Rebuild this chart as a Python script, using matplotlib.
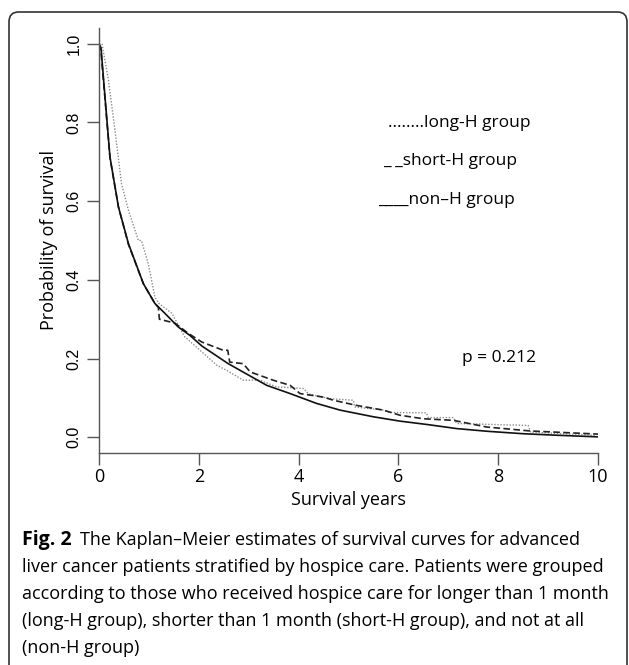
import numpy as np
import matplotlib
matplotlib.use('Agg')
import matplotlib.pyplot as plt
from matplotlib.patches import FancyBboxPatch

# Kaplan-Meier estimates (years, survival probability)
t_non = [0, 0.04, 0.12, 0.22, 0.39, 0.59, 0.89, 1.12, 1.32, 1.59, 1.82, 2.06, 2.59, 3.36,
         3.83, 4.36, 4.83, 5.5, 6.03, 6.6, 7.17, 7.8, 8.5, 9.2, 10.0]
s_non = [1.0, 0.99, 0.865, 0.712, 0.585, 0.492, 0.39, 0.34, 0.315, 0.28, 0.259, 0.232, 0.187, 0.132,
         0.111, 0.086, 0.069, 0.052, 0.041, 0.032, 0.022, 0.015, 0.009, 0.005, 0.001]

t_short = [0, 0.04, 0.12, 0.22, 0.39, 0.59, 0.89, 1.12, 1.19, 1.21, 1.52, 1.79, 2.06, 2.49,
           2.58, 2.62, 2.89, 3.03, 3.49, 3.83, 4.03, 4.5, 4.7, 5.16, 5.7, 6.03, 6.5, 7.1,
           7.77, 8.64, 9.84, 10.0]
s_short = [1.0, 0.98, 0.86, 0.71, 0.585, 0.49, 0.39, 0.34, 0.33, 0.30, 0.29, 0.264, 0.242, 0.221,
           0.221, 0.191, 0.187, 0.166, 0.145, 0.132, 0.111, 0.102, 0.094, 0.081, 0.069, 0.056, 0.047, 0.043,
           0.026, 0.016, 0.009, 0.008]

t_long = [0, 0.06, 0.19, 0.32, 0.45, 0.59, 0.79, 0.85, 0.99, 1.12, 1.2, 1.46, 1.72, 1.99,
          2.36, 2.56, 2.89, 3.22, 3.56, 4.1, 4.2, 4.63, 5.1, 5.12, 5.7, 5.83, 6.56, 6.6,
          7.1, 7.17, 8.6, 8.65, 9.97]
s_long = [1.0, 1.0, 0.907, 0.78, 0.645, 0.577, 0.50, 0.50, 0.44, 0.356, 0.34, 0.315, 0.255, 0.225,
          0.183, 0.17, 0.145, 0.145, 0.128, 0.124, 0.11, 0.098, 0.094, 0.077, 0.069, 0.063, 0.062, 0.05,
          0.05, 0.035, 0.03, 0.013, 0.005]

x_ticks = [0, 2, 4, 6, 8, 10]
y_ticks = [0.0, 0.2, 0.4, 0.6, 0.8, 1.0]

legend_lines = ['........long-H group', '_ _short-H group', '____non\u2013H group']
p_text = 'p = 0.212'

caption_head = 'Fig. 2'
caption = [
    'The Kaplan\u2013Meier estimates of survival curves for advanced',
    'liver cancer patients stratified by hospice care. Patients were grouped',
    'according to those who received hospice care for longer than 1 month',
    '(long-H group), shorter than 1 month (short-H group), and not at all',
    '(non-H group)',
]

plt.rcParams['font.family'] = ['Open Sans', 'DejaVu Sans']

fig = plt.figure(figsize=(6.29, 6.65), dpi=100)
W, H = 629, 665

# rounded frame round the figure panel (bottom runs off the page)
frame = FancyBboxPatch((9 / W, -20 / H), 618 / W, (H - 12 + 20) / H,
                       boxstyle='round,pad=0,rounding_size=0.015',
                       transform=fig.transFigure, fill=False, lw=1.2, ec='#333333')
fig.patches.append(frame)

ax = fig.add_axes([99 / W, 1 - 453 / H, (598 - 99) / W, (453 - 28) / H])
ax.plot(t_long, s_long, color='#8c8c8c', ls=(0, (1, 1.2)), lw=1.0)
ax.plot(t_short, s_short, color='#222222', ls=(0, (4, 2)), lw=1.2)
ax.plot(t_non, s_non, color='#111111', ls='-', lw=1.2)

ax.set_xlim(0, 10)
ax.set_ylim(-0.04, 1.04)
for side in ['top', 'right']:
    ax.spines[side].set_visible(False)
for side in ['left', 'bottom']:
    ax.spines[side].set_color('#555555')
    ax.spines[side].set_linewidth(1.0)

ax.set_xticks(x_ticks)
ax.set_xticklabels([str(v) for v in x_ticks], fontsize=13)
ax.set_yticks(y_ticks)
ax.set_yticklabels(['%.1f' % v for v in y_ticks], rotation=90, va='center',
                   fontsize=11.5, family=['Liberation Sans', 'DejaVu Sans'])
ax.tick_params(axis='both', length=8.5, width=1.0, color='#555555')
ax.tick_params(axis='x', pad=2)
ax.tick_params(axis='y', pad=4)
ax.set_xlabel('Survival years', fontsize=13, labelpad=4)
ax.set_ylabel('Probability of survival', fontsize=13, labelpad=6)

for txt, x0, y0 in zip(legend_lines, [388, 383, 378], [123, 161, 200]):
    fig.text(x0 / W, 1 - y0 / H, txt, fontsize=12.5, va='center', ha='left')
fig.text(462 / W, 1 - 358 / H, p_text, fontsize=12.5, va='center', ha='left')

fig.text(22 / W, 1 - 540 / H, caption_head, fontsize=14, fontweight='bold', va='center', ha='left')
fig.text(80 / W, 1 - 540 / H, caption[0], fontsize=13, va='center', ha='left')
for i, line in enumerate(caption[1:]):
    fig.text(22 / W, 1 - (567 + 27 * i) / H, line, fontsize=13, va='center', ha='left')

fig.savefig('out.png', dpi=100)
